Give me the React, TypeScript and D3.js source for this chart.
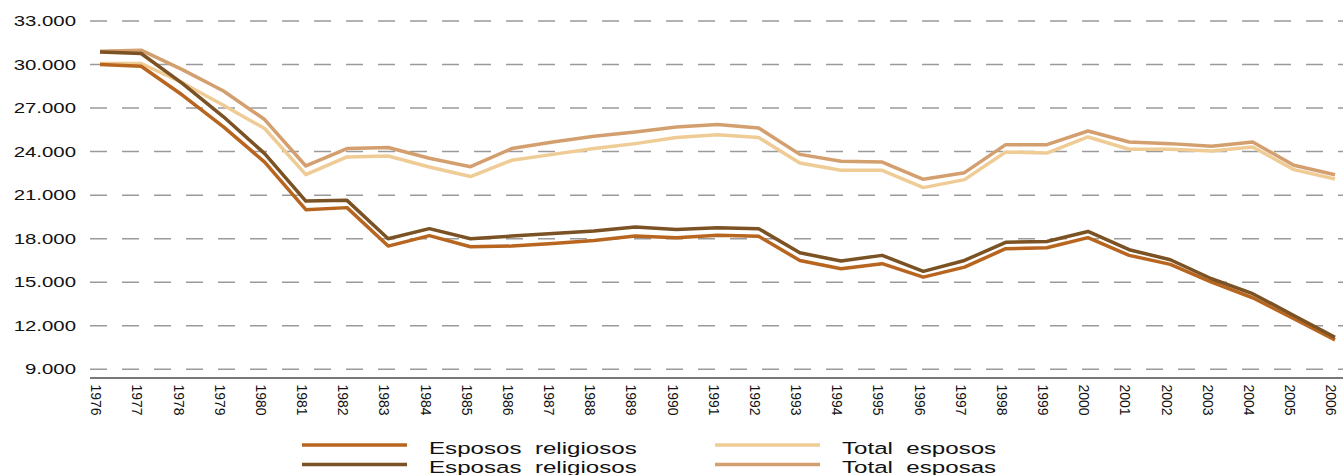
import { useEffect, useRef } from 'react'
import * as d3 from 'd3'

const years = d3.range(1976, 2007).map(String)

const esposTotal = [
  30070, 30070, 28750, 27190, 25590, 22410, 23630, 23700, 22940, 22280,
  23400, 23810, 24210, 24550, 24970, 25170, 24970, 23210, 22710, 22710,
  21520, 22070, 23970, 23900, 25010, 24160, 24160, 24040, 24320, 22760, 22110
]
const esposasTotal = [
  30920, 30990, 29650, 28180, 26210, 23010, 24210, 24280, 23540, 22960,
  24210, 24660, 25060, 25350, 25700, 25860, 25630, 23810, 23330, 23280,
  22090, 22550, 24480, 24480, 25420, 24660, 24550, 24370, 24660, 23060, 22410
]
const esposReligiosos = [
  30000, 29880, 27900, 25700, 23280, 20000, 20140, 17490, 18210, 17440,
  17490, 17660, 17880, 18180, 18070, 18230, 18160, 16500, 15930, 16280,
  15350, 16040, 17310, 17380, 18070, 16850, 16230, 15010, 13930, 12480, 11030
]
const esposasReligiosos = [
  30870, 30760, 28700, 26400, 23860, 20590, 20640, 18000, 18690, 18000,
  18180, 18350, 18530, 18800, 18640, 18760, 18690, 17030, 16460, 16850,
  15750, 16500, 17750, 17810, 18500, 17240, 16550, 15240, 14210, 12710, 11210
]

const yTicks = [9000, 12000, 15000, 18000, 21000, 24000, 27000, 30000, 33000]

const series = [
  { name: 'Total  esposos', values: esposTotal, color: '#efcc95' },
  { name: 'Total  esposas', values: esposasTotal, color: '#d49f6e' },
  { name: 'Esposos  religiosos', values: esposReligiosos, color: '#b7651f' },
  { name: 'Esposas  religiosos', values: esposasReligiosos, color: '#7a5224' }
]

const legendItems = [
  { name: 'Esposos  religiosos', color: '#b7651f' },
  { name: 'Esposas  religiosos', color: '#7a5224' },
  { name: 'Total  esposos', color: '#efcc95' },
  { name: 'Total  esposas', color: '#d49f6e' }
]

export default function App() {
  const svgRef = useRef<SVGSVGElement>(null)
  const width = 1343
  const height = 475

  useEffect(() => {
    if (!svgRef.current) return
    const svg = d3.select(svgRef.current)
    svg.selectAll('*').remove()

    const font = '"Liberation Sans", Arial, Helvetica, sans-serif'

    const x = d3.scalePoint<string>().domain(years).range([100, 1335])
    const y = d3.scaleLinear().domain([8400, 33000]).range([378, 21])

    // dashed grid lines
    svg.append('g')
      .selectAll('line')
      .data(yTicks)
      .enter().append('line')
      .attr('x1', 90)
      .attr('x2', width)
      .attr('y1', d => y(d))
      .attr('y2', d => y(d))
      .attr('stroke', '#9a9a9a')
      .attr('stroke-width', 1.5)
      .attr('stroke-dasharray', '17,15')

    // y labels (stretched horizontally like the original)
    svg.append('g')
      .selectAll('text')
      .data(yTicks)
      .enter().append('text')
      .attr('transform', d => `translate(76,${y(d)}) scale(1.36,1)`)
      .attr('text-anchor', 'end')
      .attr('dominant-baseline', 'central')
      .style('font-family', font)
      .style('font-size', '15px')
      .style('fill', '#111')
      .text(d => d3.format(',')(d).replace(/,/g, '.'))

    // baseline axis
    svg.append('line')
      .attr('x1', 90)
      .attr('x2', width)
      .attr('y1', y(8400))
      .attr('y2', y(8400))
      .attr('stroke', '#777')
      .attr('stroke-width', 2)

    // x labels, rotated
    svg.append('g')
      .selectAll('text')
      .data(years)
      .enter().append('text')
      .attr('transform', d => `translate(${(x(d) || 0) - 3.5},384.5) rotate(90) scale(1,1.08)`)
      .attr('text-anchor', 'start')
      .attr('dominant-baseline', 'central')
      .style('font-family', font)
      .style('font-size', '14px')
      .style('fill', '#111')
      .text(d => d)

    const line = d3.line<number>()
      .x((_, i) => x(years[i]) || 0)
      .y(d => y(d))

    svg.append('g')
      .selectAll('path')
      .data(series)
      .enter().append('path')
      .attr('d', d => line(d.values))
      .attr('fill', 'none')
      .attr('stroke', d => d.color)
      .attr('stroke-width', 3.5)
      .attr('stroke-linejoin', 'round')

    // legend
    const cols = [
      { lx1: 302, lx2: 407, tx: 429 },
      { lx1: 715, lx2: 820, tx: 842 }
    ]
    legendItems.forEach((item, i) => {
      const col = cols[Math.floor(i / 2)]
      const row = i % 2
      const ly = 445 + row * 19.5
      svg.append('line')
        .attr('x1', col.lx1)
        .attr('x2', col.lx2)
        .attr('y1', ly)
        .attr('y2', ly)
        .attr('stroke', item.color)
        .attr('stroke-width', 3.5)
      svg.append('text')
        .attr('transform', `translate(${col.tx},${453.5 + row * 19.5}) scale(1.42,1)`)
        .style('font-family', font)
        .style('font-size', '17px')
        .style('fill', '#111')
        .style('white-space', 'pre')
        .text(item.name)
    })
  }, [])

  return (
    <svg
      ref={svgRef}
      width={width}
      height={height}
      style={{ position: 'absolute', left: 0, top: 0, background: '#fff' }}
    />
  )
}
